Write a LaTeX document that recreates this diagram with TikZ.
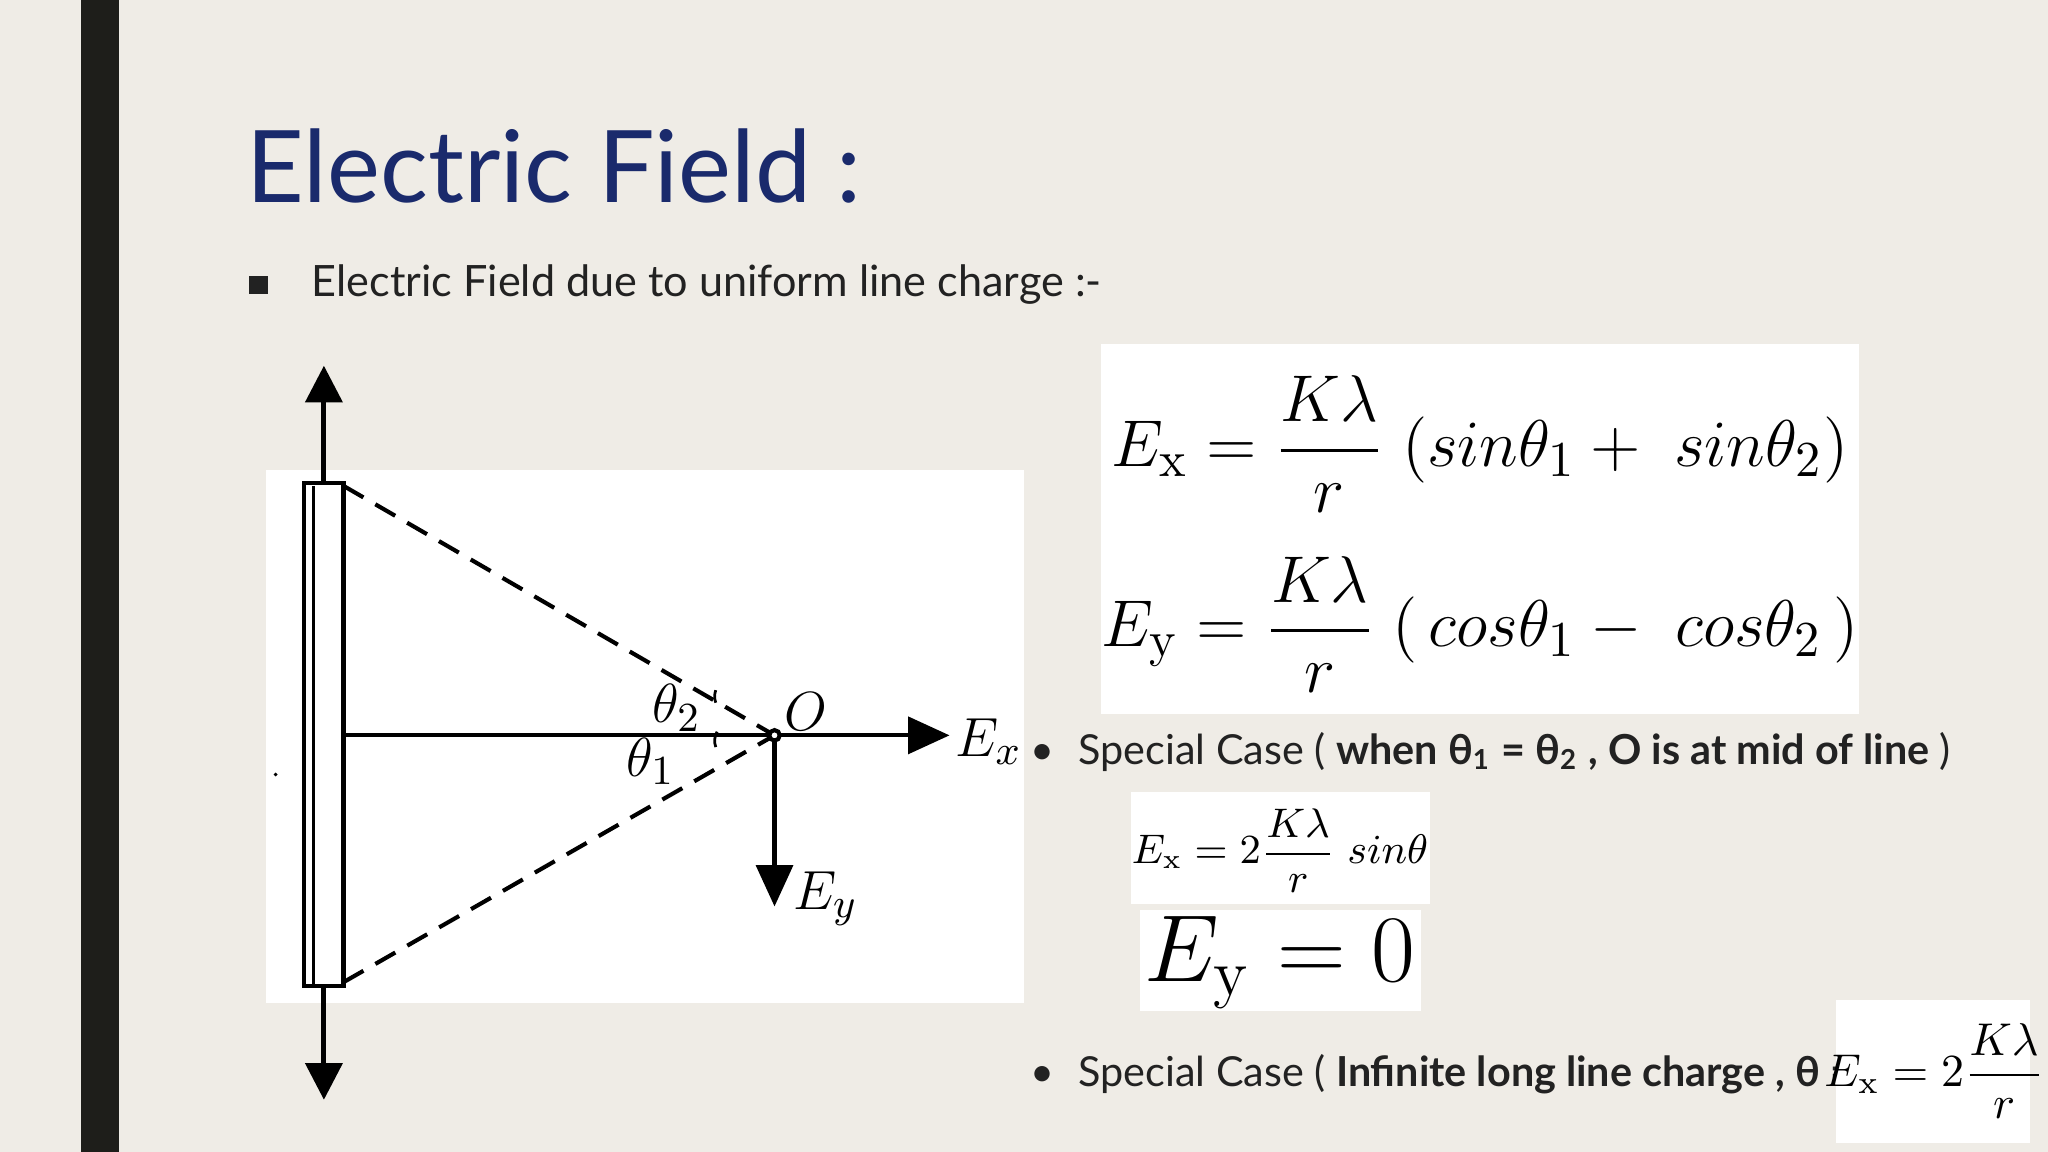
\documentclass[tikz,border=0pt]{standalone}
\usepackage{amsmath}
\usepackage[no-math]{fontspec}
\setmainfont{Lato}
\usetikzlibrary{arrows.meta}
\definecolor{bg}{HTML}{EFECE6}
\definecolor{barc}{HTML}{1E1E1A}
\definecolor{titlec}{HTML}{1A2A6C}
\definecolor{txt}{HTML}{222222}
\tikzset{
  bigarrow/.style={-{Triangle[length=8pt,width=8pt]},line width=1.1pt},
  fig/.style={line width=0.9pt,black},
  dsh/.style={dash pattern=on 5pt off 3pt},
  bul/.style={anchor=base west,font=\fontsize{9}{11}\selectfont,text=txt,inner sep=0},
  lab/.style={font=\fontsize{12.5}{14}\selectfont},
}
\begin{document}
\begin{tikzpicture}[x=0.01cm,y=-0.01cm]
\useasboundingbox (0,0) rectangle (1568,882);
\fill[bg] (0,0) rectangle (1568,882);
\fill[barc] (62,0) rectangle (91,882);
\node[anchor=base west,inner sep=0,text=titlec,font=\fontsize{21.8}{26}\selectfont] (title) at (188,155) {Electric Field :};
\fill[txt] (191,211) rectangle (205,225);
\node[bul,font=\fontsize{9.4}{11}\selectfont] (sub) at (238,227) {Electric Field due to uniform line charge :-};
% figure
\fill[white] (204,360) rectangle (784,768);
\coordinate (top) at (248,280);
\coordinate (bot) at (248,842);
\draw[bigarrow] (248,560) -- (top);
\draw[bigarrow] (248,560) -- (bot);
\draw[fig,fill=white] (233,370) rectangle (263,755);
\draw[fig,line width=0.5pt] (240,372) -- (240,753);
\coordinate (O) at (593,563);
\draw[fig,dsh] (263,372) -- (O);
\draw[fig,dsh] (263,752) -- (O);
\coordinate (exend) at (727,563);
\coordinate (eyend) at (593,694);
\draw[fig,-{Triangle[length=9pt,width=8pt]}] (263,563) -- (exend);
\draw[fig,-{Triangle[length=9pt,width=8pt]}] (O) -- (eyend);
\draw[fig,fill=white] (O) circle (4);
\draw[fig,line width=0.6pt] (548,538) arc[start angle=160,end angle=200,radius=14];
\draw[fig,line width=0.6pt] (548,572) arc[start angle=160,end angle=210,radius=14];
\fill (211,593) circle (1.5);
\node[lab] (lO) at (617,545) {$O$};
\node[lab] (lth2) at (518,542) {$\theta_2$};
\node[lab] (lth1) at (498,583) {$\theta_1$};
\node[lab] (lEx) at (757,568) {$E_x$};
\node[lab] (lEy) at (632,688) {$E_y$};
% equations
\fill[white] (843,263) rectangle (1423,547);
\node[font=\fontsize{15}{18}\selectfont] (eq1) at (1133,340) {$E_{\mathrm{x}} = \dfrac{K\lambda}{r}\;(sin\theta_1 +\; sin\theta_2)$};
\node[font=\fontsize{15}{18}\selectfont] (eq2) at (1133,478) {$E_{\mathrm{y}} = \dfrac{K\lambda}{r}\;(\,cos\theta_1 -\; cos\theta_2\,)$};
\node[bul] (b1dot) at (788,585) {•};
\node[bul] (b1) at (825,585) {Special Case ( \textbf{when θ\textsubscript{1} = θ\textsubscript{2} , O is at mid of line} )};
\fill[white] (866,606) rectangle (1095,692);
\node[font=\fontsize{9.2}{11}\selectfont] (eq3) at (980,651) {$E_{\mathrm{x}} = 2\dfrac{K\lambda}{r}\;sin\theta$};
\fill[white] (873,697) rectangle (1088,774);
\node[font=\fontsize{19.5}{24}\selectfont] (eq4) at (980,737) {$E_{\mathrm{y}} = 0$};
\node[bul] (b2dot) at (788,832) {•};
\node[bul] (b2) at (825,832) {Special Case ( \textbf{Infinite long line charge , θ =}};
\fill[white] (1406,766) rectangle (1554,875);
\node[font=\fontsize{9.6}{12}\selectfont] (eq5) at (1481,820) {$E_{\mathrm{x}} = 2\dfrac{K\lambda}{r}$};
\end{tikzpicture}
\end{document}
